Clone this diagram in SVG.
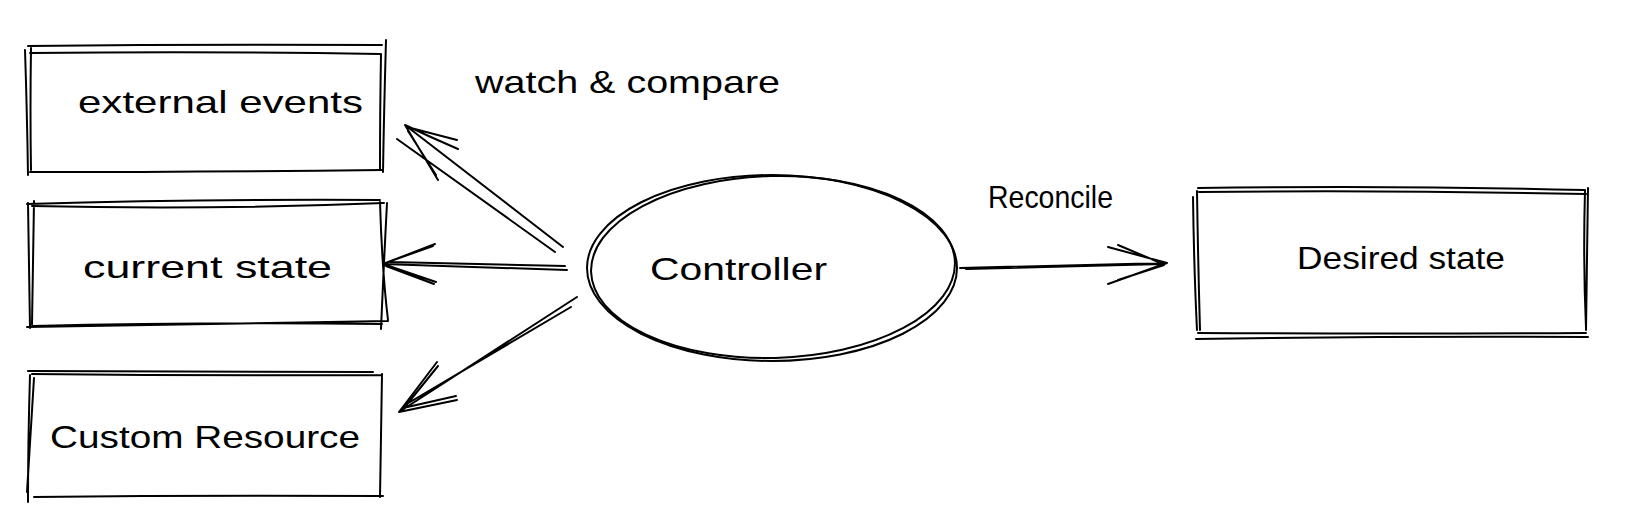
<svg xmlns="http://www.w3.org/2000/svg" width="1642" height="528" viewBox="0 0 1642 528">
<style>
.s{fill:none;stroke:#000;stroke-width:2;stroke-linecap:round;stroke-linejoin:round}
.t{font-family:"Liberation Sans",Arial,sans-serif;fill:#000;font-size:32px}
</style>
<rect width="1642" height="528" fill="#fff"/>
<g id="node-external-events">
<path class="s" d="M28 46 Q200 44 382 45 M30 53 Q210 51 380 54 M381 54 Q380 110 380 170 M386 40 Q384 110 383 172 M382 170 Q200 172 30 172 M25 50 Q27 110 28 175 M31 48 Q30 110 31 170"/>
<text class="t" x="78" y="113" textLength="285" lengthAdjust="spacingAndGlyphs">external events</text>
</g>
<g id="node-current-state">
<path class="s" d="M27 204 Q200 199 380 200 M32 206 Q210 210 384 203 M28 203 Q29 260 30 328 M34 201 Q33 260 32 325 M387 203 Q384 260 381 329 M380 202 Q382 270 388 320 M27 327 Q200 324 388 321 M33 326 Q200 322 382 324"/>
<text class="t" x="83" y="278" textLength="249" lengthAdjust="spacingAndGlyphs">current state</text>
</g>
<g id="node-custom-resource">
<path class="s" d="M28 371 Q200 372 373 372 M32 374 Q210 376 382 375 M34 378 Q30 440 27 492 M30 375 Q28 440 28 502 M382 374 Q381 440 380 497 M34 497 Q200 495 383 496"/>
<text class="t" x="50" y="448" textLength="310" lengthAdjust="spacingAndGlyphs">Custom Resource</text>
</g>
<g id="node-controller">
<ellipse class="s" cx="772" cy="268" rx="185" ry="93"/>
<ellipse class="s" cx="773" cy="267" rx="182" ry="91" transform="rotate(-1.5 773 267)"/>
<text class="t" x="650" y="280" textLength="177" lengthAdjust="spacingAndGlyphs">Controller</text>
</g>
<g id="node-desired-state">
<path class="s" d="M1198 188 Q1390 185 1584 190 M1199 192 Q1390 190 1586 194 M1193 197 Q1194 270 1197 330 M1197 191 Q1198 260 1200 330 M1585 190 Q1583 260 1586 328 M1588 188 Q1587 260 1586 330 M1198 333 Q1390 334 1586 333 M1196 339 Q1390 336 1588 337"/>
<text class="t" x="1297" y="269" textLength="208" lengthAdjust="spacingAndGlyphs" font-size="30">Desired state</text>
</g>
<g id="connectors">
<path class="s" d="M563 247 L405 125 M555 252 L397 139 M405 125 Q430 137 458 149 M407 127 L457 140 M405 125 L438 180 M408 131 L436 175"/>
<path class="s" d="M567 270 L383 264 M565 266 L390 262 M383 264 L435 244 M388 262 L433 246 M383 264 L436 282 M386 266 L434 284"/>
<path class="s" d="M577 297 L399 412 M571 307 L405 405 M399 412 L437 362 M404 408 L438 366 M399 412 L457 400 M403 408 L456 396"/>
<path class="s" d="M960 268 L1167 263 M966 269 L1163 264 M1167 263 L1108 247 M1163 264 L1118 245 M1167 263 L1108 284 M1164 265 L1118 280"/>
</g>
<g id="labels">
<text class="t" x="475" y="93" textLength="305" lengthAdjust="spacingAndGlyphs">watch &amp; compare</text>
<text class="t" x="988" y="208" font-size="24" textLength="125" lengthAdjust="spacingAndGlyphs">Reconcile</text>
</g>
</svg>
